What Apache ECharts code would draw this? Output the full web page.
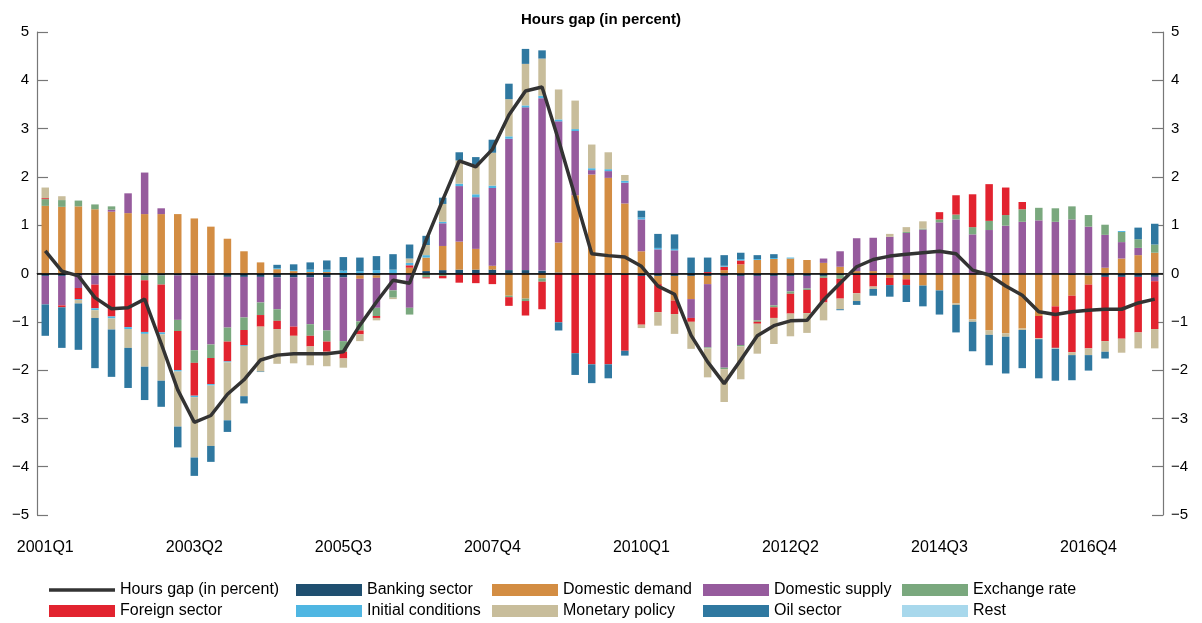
<!DOCTYPE html>
<html><head><meta charset="utf-8">
<script src="https://cdn.jsdelivr.net/npm/echarts@6/dist/echarts.min.js"></script>
<style>html,body{margin:0;padding:0;background:#fff}#c{width:1202px;height:623px}</style>
</head><body><div id="c"></div>
<script>
const categories = ['2001Q1','2001Q2','2001Q3','2001Q4','2002Q1','2002Q2','2002Q3','2002Q4','2003Q1','2003Q2','2003Q3','2003Q4',
'2004Q1','2004Q2','2004Q3','2004Q4','2005Q1','2005Q2','2005Q3','2005Q4','2006Q1','2006Q2','2006Q3','2006Q4',
'2007Q1','2007Q2','2007Q3','2007Q4','2008Q1','2008Q2','2008Q3','2008Q4','2009Q1','2009Q2','2009Q3','2009Q4',
'2010Q1','2010Q2','2010Q3','2010Q4','2011Q1','2011Q2','2011Q3','2011Q4','2012Q1','2012Q2','2012Q3','2012Q4',
'2013Q1','2013Q2','2013Q3','2013Q4','2014Q1','2014Q2','2014Q3','2014Q4','2015Q1','2015Q2','2015Q3','2015Q4',
'2016Q1','2016Q2','2016Q3','2016Q4','2017Q1','2017Q2','2017Q3','2017Q4'];
const yTicks = [-5,-4,-3,-2,-1,0,1,2,3,4,5];

const hoursGap = [0.47,0.05,-0.05,-0.50,-0.73,-0.71,-0.53,-1.45,-2.41,-3.08,-2.94,-2.50,
-2.20,-1.79,-1.69,-1.66,-1.66,-1.66,-1.62,-1.07,-0.59,-0.14,-0.20,0.69,
1.52,2.33,2.21,2.57,3.28,3.78,3.86,2.76,1.59,0.41,0.37,0.34,
0.15,-0.26,-0.43,-1.28,-1.83,-2.28,-1.79,-1.29,-1.08,-0.98,-0.97,-0.55,
-0.20,0.14,0.29,0.36,0.40,0.43,0.46,0.41,0.07,-0.03,-0.26,-0.45,
-0.79,-0.85,-0.79,-0.76,-0.74,-0.74,-0.61,-0.53];

const banking = [-0.05,-0.05,-0.04,-0.04,-0.04,-0.04,-0.04,-0.04,-0.04,-0.04,-0.04,-0.07,
-0.07,-0.07,-0.08,-0.08,-0.08,-0.08,-0.08,-0.04,-0.04,-0.02,-0.02,0.05,
0.07,0.08,0.08,0.08,0.07,0.07,0.06,0.02,-0.02,-0.02,-0.02,-0.03,
-0.05,-0.05,-0.05,-0.05,-0.05,-0.05,-0.05,-0.05,-0.05,-0.05,-0.05,-0.05,
-0.03,-0.03,-0.03,-0.02,-0.02,-0.02,-0.02,-0.02,-0.02,-0.03,-0.03,-0.02,
-0.02,-0.02,-0.03,-0.04,-0.07,-0.07,-0.07,-0.07];

const domesticDemand = [1.40,1.38,1.39,1.33,1.28,1.25,1.23,1.23,1.23,1.14,0.97,0.72,
0.46,0.23,0.09,0.05,0.03,0.03,0.01,-0.07,-0.05,0.00,0.12,0.28,
0.50,0.58,0.43,0.08,-0.46,-0.52,-0.10,0.62,1.62,2.05,1.98,1.45,
0.46,-0.17,-0.51,-0.48,-0.17,0.07,0.19,0.28,0.30,0.31,0.28,0.22,
0.14,0.05,0.05,-0.07,-0.10,-0.23,-0.33,-0.60,-0.93,-1.15,-1.21,-1.12,
-0.86,-0.66,-0.43,-0.19,0.12,0.31,0.38,0.43];

const domesticSupply = [-0.59,-0.61,-0.26,-0.19,0.04,0.41,0.86,0.12,-0.92,-1.55,-1.43,-1.05,
-0.84,-0.53,-0.66,-1.02,-0.97,-1.10,-1.32,-0.88,-0.62,-0.33,-0.69,0.00,
0.47,1.15,1.07,1.61,2.72,3.37,3.57,2.51,1.33,0.09,0.14,0.43,
0.66,0.50,0.48,-0.39,-1.31,-1.90,-1.43,-0.92,-0.61,-0.32,-0.26,0.09,
0.32,0.68,0.69,0.76,0.84,0.91,1.06,1.12,0.81,0.90,0.99,1.07,
1.10,1.07,1.12,0.97,0.68,0.34,0.15,-0.09];

const exchangeRate = [0.14,0.14,0.12,0.10,0.07,0.00,-0.10,-0.19,-0.23,-0.26,-0.28,-0.29,
-0.26,-0.26,-0.24,0.00,-0.24,-0.23,-0.22,-0.19,-0.17,-0.15,-0.14,-0.08,
-0.05,-0.02,0.00,-0.02,-0.03,-0.05,-0.07,0.00,0.00,0.00,0.00,0.00,
0.00,0.00,0.00,0.00,-0.02,-0.03,-0.03,-0.03,-0.04,-0.05,-0.03,-0.04,
-0.08,0.00,0.00,0.00,0.02,0.02,0.06,0.10,0.15,0.19,0.22,0.26,
0.26,0.28,0.27,0.24,0.21,0.21,0.18,0.17];

const foreignSector = [0.02,-0.04,-0.23,-0.49,-0.85,-1.07,-1.07,-0.99,-0.81,-0.68,-0.54,-0.41,
-0.31,-0.24,-0.17,-0.19,-0.22,-0.21,-0.14,-0.08,-0.04,0.00,0.05,-0.02,
-0.05,-0.17,-0.20,-0.20,-0.18,-0.30,-0.57,-1.01,-1.63,-1.86,-1.86,-1.57,
-1.01,-0.58,-0.28,-0.08,0.03,0.07,0.08,-0.04,-0.22,-0.41,-0.48,-0.51,
-0.41,-0.38,-0.24,-0.15,-0.12,0.00,0.15,0.40,0.68,0.76,0.57,0.15,
-0.46,-0.86,-1.17,-1.32,-1.33,-1.28,-1.15,-0.99];

const initialConditions = [0.00,0.00,-0.02,-0.04,-0.04,-0.04,-0.04,-0.04,-0.03,-0.03,-0.03,-0.02,
-0.02,0.00,0.02,0.02,0.05,0.05,0.05,0.05,0.07,0.08,0.05,0.05,
0.03,0.05,0.06,0.05,0.05,0.04,0.05,0.04,0.04,0.04,0.04,0.04,
0.04,0.03,0.03,0.00,0.00,0.02,0.03,0.02,0.02,0.02,0.00,0.00,
0.00,0.00,0.00,0.00,0.00,0.00,0.00,0.00,0.00,0.00,0.00,0.00,
0.00,-0.01,0.00,0.00,0.00,0.02,0.00,0.00];

const monetaryPolicy = [0.22,0.08,-0.07,-0.16,-0.23,-0.39,-0.68,-0.96,-1.14,-1.25,-1.25,-1.20,
-1.04,-0.93,-0.72,-0.57,-0.39,-0.30,-0.19,-0.14,-0.05,-0.03,0.09,0.21,
0.37,0.48,0.61,0.68,0.77,0.86,0.77,0.62,0.59,0.49,0.35,0.12,
-0.07,-0.28,-0.41,-0.56,-0.60,-0.68,-0.68,-0.62,-0.54,-0.47,-0.41,-0.37,
-0.22,-0.16,-0.05,0.06,0.10,0.15,0.00,-0.03,-0.05,-0.09,-0.07,-0.03,
-0.02,-0.01,-0.06,-0.14,-0.22,-0.29,-0.33,-0.40];

const oilSector = [-0.65,-0.84,-0.96,-1.04,-0.98,-0.83,-0.69,-0.54,-0.43,-0.38,-0.33,-0.24,
-0.15,-0.01,0.07,0.12,0.15,0.19,0.28,0.28,0.29,0.32,0.29,0.19,
0.13,0.17,0.16,0.27,0.32,0.31,0.17,-0.17,-0.45,-0.39,-0.29,-0.10,
0.14,0.29,0.30,0.33,0.30,0.22,0.13,0.08,0.08,0.00,0.00,0.00,
-0.02,-0.08,-0.14,-0.24,-0.35,-0.43,-0.50,-0.57,-0.61,-0.63,-0.76,-0.79,
-0.81,-0.66,-0.52,-0.32,-0.14,0.00,0.24,0.43];

const rest = [0,0,0,0,0,0,0,0,0,0,0,0,
0,0,0,0,0,0,0,0,0,0,0,0,
0,0,0,0,0,0,0,0,0,0,0,0,
0,0,0,0,0,0,0,0,0,0,0,0,
0,0,0,0,0,0,0,0,0,0,0,0,
0,0,0,0,0,0,0,0];

const barNames = ['Banking sector','Domestic demand','Domestic supply','Exchange rate','Foreign sector','Initial conditions','Monetary policy','Oil sector','Rest'];
const barData = [banking,domesticDemand,domesticSupply,exchangeRate,foreignSector,initialConditions,monetaryPolicy,oilSector,rest];
const barColors = ['#1f4f70','#d38d43','#965b9d','#7aa87e','#e2232f','#4fb6e2','#c8bd9b','#2f78a0','#a8d8ec'];
const lineName = 'Hours gap (in percent)';

const FONT = 'Liberation Sans, Arial, Helvetica, sans-serif';
const fmt = v => v < 0 ? '\u2212' + Math.abs(v) : String(v);

const series = barNames.map((n,i)=>({
  name:n, type:'bar', stack:'total', data:barData[i], barWidth:7.5,
  itemStyle:{color:barColors[i]}, emphasis:{disabled:true}
}));
series.push({
  name:lineName, type:'line', data:hoursGap, symbol:'none', z:10,
  lineStyle:{color:'#333333', width:3.5}, itemStyle:{color:'#333333'},
  markLine:{silent:true, symbol:'none', label:{show:false}, lineStyle:{color:'#000', width:1.5, type:'solid'}, data:[{yAxis:0}]}
});

const legendCols = [49,296,492,703,902];
const legendRows = [582,603];
const legendOrder = [lineName,'Banking sector','Domestic demand','Domestic supply','Exchange rate',
  'Foreign sector','Initial conditions','Monetary policy','Oil sector','Rest'];
const legends = legendOrder.map((n,i)=>{
  const isLine = n === lineName;
  return {
    data:[isLine ? {name:n, icon:'rect', itemStyle:{color:'#333333'}} : {name:n, icon:'rect'}],
    left:legendCols[i%5], top:legendRows[Math.floor(i/5)], padding:0,
    itemWidth:66, itemHeight:isLine ? 3.5 : 12, itemGap:6, selectedMode:false,
    textStyle:{fontFamily:FONT, fontSize:16, color:'#000', lineHeight:16}
  };
});

const yAxisBase = {
  type:'value', min:-5, max:5, interval:1,
  axisLine:{show:true, lineStyle:{color:'#777', width:1.2}},
  axisTick:{show:true, inside:true, length:11, lineStyle:{color:'#777', width:1.2}},
  splitLine:{show:false},
  axisLabel:{fontFamily:FONT, fontSize:15, color:'#000', formatter:fmt}
};

const chart = echarts.init(document.getElementById('c'), null, {renderer:'canvas'});
chart.setOption({
  animation:false,
  backgroundColor:'#fff',
  title:{text:'Hours gap (in percent)', left:'center', top:7, textStyle:{fontFamily:FONT, fontSize:15, fontWeight:'bold', color:'#000'}},
  legend:legends,
  grid:{left:37, right:39, top:32, bottom:108, containLabel:false},
  xAxis:{type:'category', data:categories, boundaryGap:true,
    axisLine:{show:true, lineStyle:{color:'#777', width:1.2}},
    axisTick:{show:true, alignWithLabel:true, interval:8, inside:true, length:8, lineStyle:{color:'#777'}},
    axisLabel:{interval:8, fontFamily:FONT, fontSize:16, color:'#000', margin:25}},
  yAxis:[Object.assign({}, yAxisBase, {position:'left'}), Object.assign({}, yAxisBase, {position:'right'})],
  series:series
});
</script></body></html>
